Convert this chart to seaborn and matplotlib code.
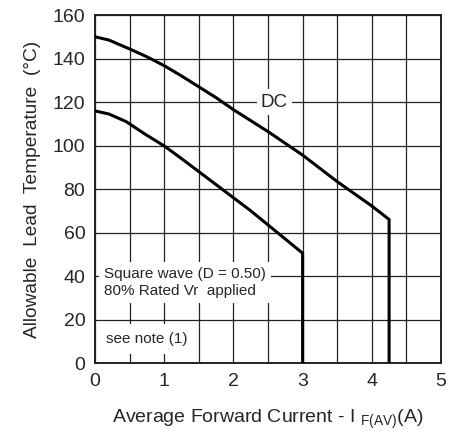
import pandas as pd
import seaborn as sns
import matplotlib.pyplot as plt

# Curve values
dc_current = [0, 0.2, 0.5, 0.75, 1.0, 1.25, 1.5, 1.75, 2.0, 2.5, 3.0, 3.5, 4.0, 4.25, 4.25]
dc_temp = [150, 148.5, 144.4, 140.8, 136.7, 132, 127, 122, 116.5, 106.4, 95.6, 83.4, 72.2, 66, 0]

sq_current = [0, 0.2, 0.45, 0.72, 1.0, 1.25, 1.5, 1.75, 2.0, 2.25, 2.5, 3.0, 3.0]
sq_temp = [115.9, 114.5, 111, 105.3, 99.8, 94, 88, 82, 76, 70, 63.5, 50.5, 0]

x_ticks = [0, 1, 2, 3, 4, 5]
y_ticks = [0, 20, 40, 60, 80, 100, 120, 140, 160]

dc = pd.DataFrame({'current': dc_current, 'temp': dc_temp})
sq = pd.DataFrame({'current': sq_current, 'temp': sq_temp})

sns.set_style('white')
plt.rcParams['font.family'] = ['Liberation Sans', 'DejaVu Sans']
plt.rcParams['mathtext.fontset'] = 'custom'
plt.rcParams['mathtext.rm'] = 'Liberation Sans'

fig = plt.figure(figsize=(4.49, 4.42), dpi=100)
ax = fig.add_axes([0.2116, 0.1787, 0.7706, 0.7873])

sns.lineplot(data=dc, x='current', y='temp', sort=False, estimator=None,
             color='black', lw=2.2, ax=ax, zorder=3)
sns.lineplot(data=sq, x='current', y='temp', sort=False, estimator=None,
             color='black', lw=2.2, ax=ax, zorder=3)

ax.set_xlim(0, 5)
ax.set_ylim(0, 160)
ax.set_xticks(x_ticks)
ax.set_yticks(y_ticks)
ax.set_xticks([0.5, 1.5, 2.5, 3.5, 4.5], minor=True)
ax.grid(True, which='both', color='#222222', lw=0.9)
ax.tick_params(which='both', length=0, labelsize=14, pad=7)
for s in ax.spines.values():
    s.set_color('#222222')
    s.set_linewidth(1.4)

ax.set_xlabel(r'Average Forward Current - I $_{\mathregular{F(AV)}}$(A)', fontsize=14, labelpad=13)
ax.set_ylabel('Allowable  Lead  Temperature  (°C)', fontsize=13.8, labelpad=8)

# annotations with white boxes hiding the grid
ax.text(2.59, 120, 'DC', fontsize=13.5, ha='center', va='center', zorder=4,
        bbox=dict(facecolor='white', edgecolor='none', pad=3))
ax.text(0.13, 37, 'Square wave (D = 0.50)\n80% Rated Vr  applied', fontsize=11,
        ha='left', va='center', linespacing=1.25, zorder=4,
        bbox=dict(facecolor='white', edgecolor='none', pad=4))
ax.text(0.16, 11, 'see note (1)', fontsize=11, ha='left', va='center', zorder=4,
        bbox=dict(facecolor='white', edgecolor='none', pad=6))

fig.savefig('out.png', dpi=100)
